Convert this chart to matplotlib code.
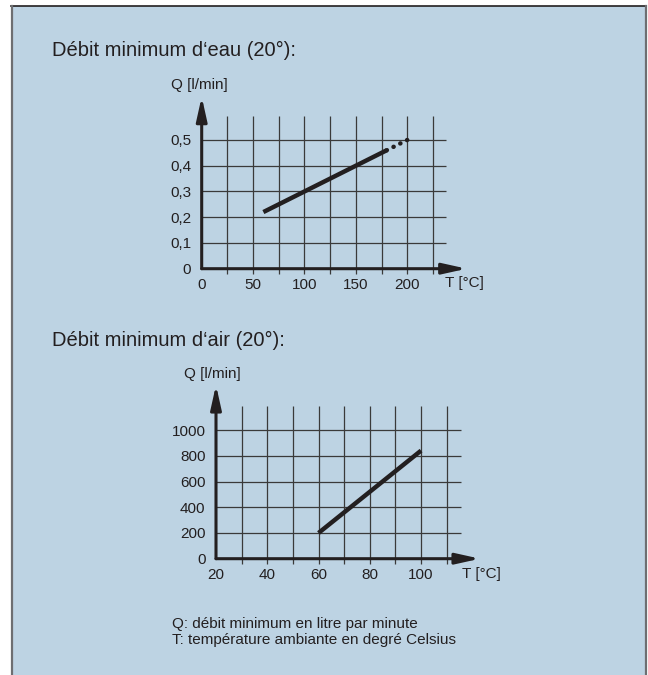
import matplotlib.pyplot as plt
from matplotlib.patches import Rectangle
from matplotlib.lines import Line2D

plt.rcParams["font.family"] = ["Liberation Sans", "DejaVu Sans"]
INK = "#231f20"
GRID = "#3a3a3a"
PANEL = "#bdd3e3"

W, H = 648, 675

# --- data ---
water_T = [60, 180]
water_Q = [0.22, 0.46]
water_T_ext = [180, 200]
water_Q_ext = [0.46, 0.50]
water_xticks = [0, 50, 100, 150, 200]
water_yticks = [0, 0.1, 0.2, 0.3, 0.4, 0.5]
water_ylabels = ["0", "0,1", "0,2", "0,3", "0,4", "0,5"]
water_vgrid = [25, 50, 75, 100, 125, 150, 175, 200, 225]

air_T = [60, 100]
air_Q = [200, 840]
air_xticks = [20, 40, 60, 80, 100]
air_yticks = [0, 200, 400, 600, 800, 1000]
air_vgrid = [30, 40, 50, 60, 70, 80, 90, 100, 110]


def fx(x):
    return x / W


def fy(y):
    return 1 - y / H


fig = plt.figure(figsize=(W / 100, H / 100), dpi=100)
fig.patch.set_facecolor("white")

# blue panel with its border
fig.patches.append(Rectangle((fx(11), -0.01), fx(646) - fx(11), fy(6) + 0.01,
                             transform=fig.transFigure, facecolor=PANEL,
                             edgecolor="none", zorder=-5))
fig.add_artist(Line2D([fx(11), fx(646)], [fy(6), fy(6)], color=INK, lw=1.2, zorder=-4))
fig.add_artist(Line2D([fx(11.5), fx(11.5)], [fy(6), 0], color="#6d6e71", lw=1.6, zorder=-4))
fig.add_artist(Line2D([fx(646), fx(646)], [fy(6), 0], color="#6d6e71", lw=1.6, zorder=-4))


def make_axes(x0px, y0px, x1px, y1px):
    ax = fig.add_axes([fx(x0px), fy(y0px), fx(x1px) - fx(x0px), fy(y1px) - fy(y0px)])
    ax.patch.set_visible(False)
    for s in ax.spines.values():
        s.set_visible(False)
    ax.tick_params(length=0, labelsize=11, labelcolor=INK)
    ax.tick_params(axis="y", pad=7.5)
    ax.tick_params(axis="x", pad=6.5)
    return ax


def draw_frame(ax, xmin, xmax, ymax, vgrid, vtop, vbot, hgrid, hend):
    ax.vlines(vgrid, vbot, vtop, color=GRID, lw=0.9, clip_on=False, zorder=1)
    ax.hlines(hgrid[1:], xmin, hend, color=GRID, lw=0.9, clip_on=False, zorder=1)
    arrow = dict(arrowstyle="-|>,head_length=14.4,head_width=3.2",
                 mutation_scale=1, lw=2.2, color=INK, shrinkA=0, shrinkB=0)
    ax.annotate("", xy=(xmax, 0), xytext=(xmin, 0), arrowprops=arrow,
                annotation_clip=False, zorder=3)
    ax.annotate("", xy=(xmin, ymax), xytext=(xmin, 0), arrowprops=arrow,
                annotation_clip=False, zorder=3)


# --- water chart ---
ax1 = make_axes(201.7, 268.7, 466.7, 96.7)
ax1.set_xlim(0, 257.8)
ax1.set_ylim(0, 0.668)
draw_frame(ax1, 0, 257.8, 0.668, water_vgrid, 0.593, -0.019, water_yticks, 238)
ax1.plot(water_T, water_Q, color=INK, lw=3.2, solid_capstyle="butt", zorder=4)
# extrapolated part: round dots, pattern sized so the last dot lands at 200
ax1.plot(water_T_ext, water_Q_ext, color=INK, lw=3.2, ls=(0, (0.05, 1.65)),
         dash_capstyle="round", zorder=4)
ax1.set_xticks(water_xticks, [str(t) for t in water_xticks])
ax1.set_yticks(water_yticks, water_ylabels)

fig.text(fx(52), fy(56), "Débit minimum d‘eau (20°):", fontsize=14.5,
         color=INK, va="baseline")
fig.text(fx(199), fy(84.5), "Q [l/min]", fontsize=11, color=INK,
         ha="center", va="center")
fig.text(fx(445), fy(282.5), "T [°C]", fontsize=11, color=INK, va="center")

# --- air chart ---
ax2 = make_axes(216, 558.7, 480, 385)
ax2.set_xlim(20, 123)
ax2.set_ylim(0, 1350)
draw_frame(ax2, 20, 123, 1350, air_vgrid, 1188, -39, air_yticks, 115.5)
ax2.plot(air_T, air_Q, color=INK, lw=3.2, solid_capstyle="butt", zorder=4)
ax2.set_xticks(air_xticks, [str(t) for t in air_xticks])
ax2.set_yticks(air_yticks, [str(v) for v in air_yticks])

fig.text(fx(52), fy(346), "Débit minimum d‘air (20°):", fontsize=14.5,
         color=INK, va="baseline")
fig.text(fx(212.5), fy(374.5), "Q [l/min]", fontsize=11, color=INK,
         ha="center", va="center")
fig.text(fx(462), fy(573.7), "T [°C]", fontsize=11, color=INK, va="center")

# --- footnote ---
fig.text(fx(171.7), fy(628), "Q: débit minimum en litre par minute",
         fontsize=11, color=INK, va="baseline")
fig.text(fx(171.7), fy(644), "T: température ambiante en degré Celsius",
         fontsize=11, color=INK, va="baseline")

fig.savefig("out.png", dpi=100)
